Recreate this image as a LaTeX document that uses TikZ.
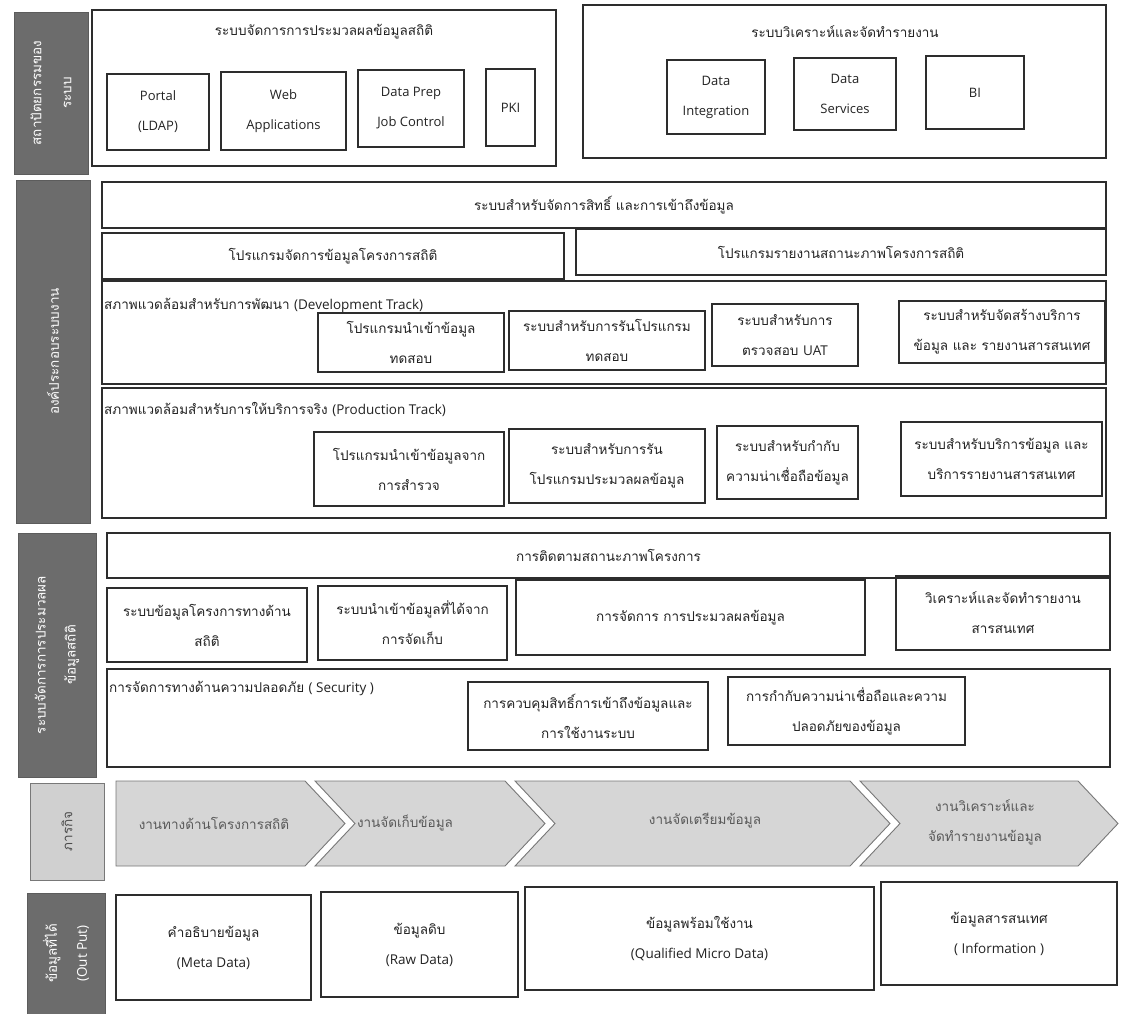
\documentclass[tikz,border=0pt]{standalone}
\usepackage{fontspec}
\setmainfont[Script=Thai]{Loma}
\newfontfamily\latinfont{Open Sans}
\definecolor{sidedark}{RGB}{108,108,108}
\definecolor{sidelight}{RGB}{208,208,208}
\definecolor{chevfill}{RGB}{214,214,214}
\definecolor{chevline}{RGB}{120,120,120}
\definecolor{boxline}{RGB}{45,45,45}
\definecolor{inktext}{RGB}{35,35,35}
\tikzset{
  sysbox/.style={draw=boxline, line width=1.2pt, align=center, inner sep=2pt},
  latinbox/.style={sysbox, font=\fontsize{13}{30}\latinfont},
  sidebox/.style={fill=sidedark, draw=sidedark!85!black, rotate=90, align=center, text=white},
  lightside/.style={fill=sidelight, draw=chevline, rotate=90, align=center, text=black!70},
  chevron/.style={fill=chevfill, draw=chevline, line width=0.9pt},
  tracktitle/.style={anchor=west, inner sep=1pt},
}
\begin{document}
\begin{tikzpicture}[x=1pt, y=-1pt, text=inktext, font=\fontsize{13.5}{30}\selectfont]
  \path[use as bounding box, fill=white] (0,0) rectangle (1124,1014);

  % system architecture
  \node [sidebox, minimum width=162, minimum height=74] (archside) at (51,93) {สถาปัตยกรรมของ\\ระบบ};
  \node [sysbox, minimum width=464, minimum height=156] (procsys) at (324,88) {};
  \node (procsystitle) at (324,32) {ระบบจัดการการประมวลผลข้อมูลสถิติ};
  \node [latinbox, minimum width=102, minimum height=76] (portal) at (158,112) {Portal\\(LDAP)};
  \node [latinbox, minimum width=125, minimum height=78] (webapp) at (283.5,111) {Web\\Applications};
  \node [latinbox, minimum width=106, minimum height=77] (dataprep) at (411,108.5) {Data Prep\\Job Control};
  \node [latinbox, minimum width=49, minimum height=77] (pki) at (510.5,107.5) {PKI};
  \node [sysbox, minimum width=523, minimum height=153] (reportsys) at (844.5,81.5) {};
  \node (reportsystitle) at (845,32) {ระบบวิเคราะห์และจัดทำรายงาน};
  \node [latinbox, minimum width=98, minimum height=74] (integration) at (716,97) {Data\\Integration};
  \node [latinbox, minimum width=102, minimum height=72] (services) at (845,94) {Data\\Services};
  \node [latinbox, minimum width=98, minimum height=73] (bi) at (975,92.5) {BI};

  % system components
  \node [sidebox, minimum width=343, minimum height=74] (compside) at (53,351.5) {องค์ประกอบระบบงาน};
  \node [sysbox, minimum width=1004, minimum height=46] (access) at (604,205) {ระบบสำหรับจัดการสิทธิ์ และการเข้าถึงข้อมูล};
  \node [sysbox, minimum width=462, minimum height=46] (projmgmt) at (333,256) {โปรแกรมจัดการข้อมูลโครงการสถิติ};
  \node [sysbox, minimum width=530, minimum height=46] (statusrep) at (841,252) {โปรแกรมรายงานสถานะภาพโครงการสถิติ};
  \node [sysbox, minimum width=1004, minimum height=103] (devtrack) at (604,332.5) {};
  \node [tracktitle] (devtitle) at (103,305) {สภาพแวดล้อมสำหรับการพัฒนา {\latinfont (Development Track)}};
  \node [sysbox, minimum width=186, minimum height=59] (devimport) at (411,342.5) {โปรแกรมนำเข้าข้อมูล\\ทดสอบ};
  \node [sysbox, minimum width=196, minimum height=59] (devrun) at (607,340.5) {ระบบสำหรับการรันโปรแกรม\\ทดสอบ};
  \node [sysbox, minimum width=146, minimum height=62] (devuat) at (785,335) {ระบบสำหรับการ\\ตรวจสอบ {\latinfont UAT}};
  \node [sysbox, minimum width=206, minimum height=62] (devservice) at (1002,332) {ระบบสำหรับจัดสร้างบริการ\\ข้อมูล และ รายงานสารสนเทศ};
  \node [sysbox, minimum width=1004, minimum height=130] (prodtrack) at (604,453) {};
  \node [tracktitle] (prodtitle) at (103,410) {สภาพแวดล้อมสำหรับการให้บริการจริง {\latinfont (Production Track)}};
  \node [sysbox, minimum width=190, minimum height=74] (prodimport) at (409,469) {โปรแกรมนำเข้าข้อมูลจาก\\การสำรวจ};
  \node [sysbox, minimum width=196, minimum height=74] (prodrun) at (607,466) {ระบบสำหรับการรัน\\โปรแกรมประมวลผลข้อมูล};
  \node [sysbox, minimum width=141, minimum height=73] (prodtrust) at (787.5,462.5) {ระบบสำหรับกำกับ\\ความน่าเชื่อถือข้อมูล};
  \node [sysbox, minimum width=201, minimum height=74] (prodservice) at (1001.5,459) {ระบบสำหรับบริการข้อมูล และ\\บริการรายงานสารสนเทศ};

  % statistical processing
  \node [sidebox, minimum width=244, minimum height=78] (procside) at (57,655) {ระบบจัดการการประมวลผล\\ข้อมูลสถิติ};
  \node [sysbox, minimum width=1003, minimum height=45] (monitor) at (608.5,555.5) {การติดตามสถานะภาพโครงการ};
  \node [sysbox, minimum width=200, minimum height=74] (projinfo) at (207,625) {ระบบข้อมูลโครงการทางด้าน\\สถิติ};
  \node [sysbox, minimum width=189, minimum height=74] (collect) at (412.5,623) {ระบบนำเข้าข้อมูลที่ได้จาก\\การจัดเก็บ};
  \node [sysbox, minimum width=349, minimum height=75] (processing) at (690.5,617.5) {การจัดการ การประมวลผลข้อมูล};
  \node [sysbox, minimum width=214, minimum height=74] (analysis) at (1003,613) {วิเคราะห์และจัดทำรายงาน\\สารสนเทศ};
  \node [sysbox, minimum width=1003, minimum height=98] (security) at (608.5,718) {};
  \node [tracktitle] (sectitle) at (108,688) {การจัดการทางด้านความปลอดภัย {\latinfont ( Security )}};
  \node [sysbox, minimum width=240, minimum height=68] (accessctl) at (588,716) {การควบคุมสิทธิ์การเข้าถึงข้อมูลและ\\การใช้งานระบบ};
  \node [sysbox, minimum width=237, minimum height=68] (datatrust) at (846.5,711) {การกำกับความน่าเชื่อถือและความ\\ปลอดภัยของข้อมูล};

  % mission
  \node [lightside, minimum width=97, minimum height=74] (missionside) at (67,831.5) {ภารกิจ};
  \draw [chevron] (116,781) -- (305,781) -- (345,823.5) -- (305,866) -- (116,866) -- cycle;
  \draw [chevron] (315,781) -- (505,781) -- (545,823.5) -- (505,866) -- (315,866) -- (355,823.5) -- cycle;
  \draw [chevron] (515,781) -- (850,781) -- (890,823.5) -- (850,866) -- (515,866) -- (555,823.5) -- cycle;
  \draw [chevron] (860,781) -- (1078,781) -- (1118,823.5) -- (1078,866) -- (860,866) -- (900,823.5) -- cycle;
  \node [text=black!65, align=center] (taskproj) at (214,823.5) {งานทางด้านโครงการสถิติ};
  \node [text=black!65, align=center] (taskcollect) at (405,823.5) {งานจัดเก็บข้อมูล};
  \node [text=black!65, align=center] (taskprep) at (705,821) {งานจัดเตรียมข้อมูล};
  \node [text=black!65, align=center] (taskreport) at (985,822) {งานวิเคราะห์และ\\จัดทำรายงานข้อมูล};

  % output
  \node [sidebox, minimum width=121, minimum height=78] (outside) at (66,953.5) {ข้อมูลที่ได้\\{\latinfont (Out Put)}};
  \node [sysbox, minimum width=195, minimum height=105] (metadata) at (213.5,947.5) {คำอธิบายข้อมูล\\{\latinfont (Meta Data)}};
  \node [sysbox, minimum width=197, minimum height=105] (rawdata) at (419.5,944.5) {ข้อมูลดิบ\\{\latinfont (Raw Data)}};
  \node [sysbox, minimum width=349, minimum height=103] (microdata) at (699.5,938.5) {ข้อมูลพร้อมใช้งาน\\{\latinfont (Qualified Micro Data)}};
  \node [sysbox, minimum width=236, minimum height=103] (information) at (999,933.5) {ข้อมูลสารสนเทศ\\{\latinfont ( Information )}};
\end{tikzpicture}
\end{document}
